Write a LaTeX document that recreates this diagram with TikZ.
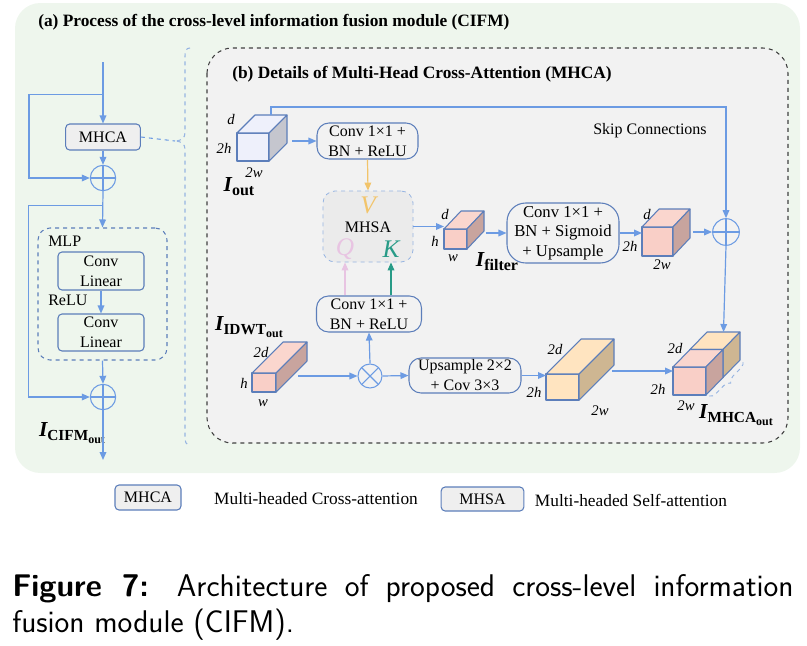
\documentclass[tikz,border=0pt]{standalone}
\usepackage{fontspec}
\setmainfont{Liberation Serif}
\usetikzlibrary{arrows.meta,calc,decorations.pathreplacing}

\definecolor{bgreen}{RGB}{238,246,237}
\definecolor{bgrey}{RGB}{242,242,242}
\definecolor{lblue}{RGB}{108,155,227}
\definecolor{dblue}{RGB}{92,126,186}
\definecolor{brblue}{RGB}{150,180,226}
\definecolor{vyellow}{RGB}{242,196,106}
\definecolor{qpink}{RGB}{232,196,226}
\definecolor{kteal}{RGB}{40,155,135}
\definecolor{pinkf}{RGB}{249,207,199}
\definecolor{pinkt}{RGB}{250,214,206}
\definecolor{pinks}{RGB}{200,164,158}
\definecolor{orangef}{RGB}{255,228,192}
\definecolor{oranges}{RGB}{206,182,146}
\definecolor{lavf}{RGB}{238,240,251}
\definecolor{lavs}{RGB}{197,198,206}
\definecolor{boxgrey}{RGB}{239,239,239}
\definecolor{mhsagrey}{RGB}{235,235,235}

% top and side faces of a box, drawn on its front node
\newcommand{\boxfaces}[5]{%
  \filldraw[cubeedge,fill=#4] (#1.north west) -- ++(#2,#3) -- ($(#1.north east)+(#2,#3)$) -- (#1.north east) -- cycle;
  \filldraw[cubeedge,fill=#5] (#1.north east) -- ++(#2,#3) -- ($(#1.south east)+(#2,#3)$) -- (#1.south east) -- cycle;}
% tensor names
\newcommand{\isub}[1]{{\fontsize{16}{16}\selectfont\bfseries\itshape I}\raisebox{-3pt}{\fontsize{12}{12}\selectfont\bfseries #1}}
\newcommand{\isubb}[2]{{\fontsize{16}{16}\selectfont\bfseries\itshape I}\raisebox{-3pt}{\fontsize{11.5}{12}\selectfont\bfseries #1\raisebox{-2.5pt}{\fontsize{9}{9}\selectfont #2}}}

\begin{document}
\begin{tikzpicture}[x=0.75pt,y=0.75pt,yscale=-1,xscale=1,
  arr/.style={draw=lblue,line width=0.9pt,-{Triangle[length=6pt,width=5pt]}},
  plain/.style={draw=lblue,line width=0.9pt},
  txt/.style={font=\fontsize{12}{15}\selectfont,align=center,inner sep=0pt},
  rbox/.style={txt,draw=dblue,line width=0.8pt,rounded corners=9pt},
  sbox/.style={txt,draw=dblue,line width=0.8pt,rounded corners=3pt},
  cubeedge/.style={draw=dblue,line width=0.8pt,line join=round},
  cubefront/.style={cubeedge,inner sep=0pt,outer sep=0pt},
  dim/.style={font=\fontsize{11}{11}\selectfont\itshape,inner sep=0pt},
  qkv/.style={font=\fontsize{19}{19}\selectfont\itshape,inner sep=0pt},
  big/.style={txt,font=\fontsize{13}{15}\selectfont},
  oplus/.style={circle,draw=lblue,line width=0.8pt,minimum size=19pt,inner sep=0pt,
    path picture={\draw[lblue,line width=0.8pt] (path picture bounding box.north) -- (path picture bounding box.south)
      (path picture bounding box.west) -- (path picture bounding box.east);}},
  otimes/.style={circle,draw=lblue,line width=0.8pt,minimum size=18pt,inner sep=0pt,
    path picture={\draw[lblue,line width=0.8pt] (path picture bounding box.north west) -- (path picture bounding box.south east)
      (path picture bounding box.south west) -- (path picture bounding box.north east);}},
]
\useasboundingbox (0,0) rectangle (807,646);

% panels
\fill[bgreen,rounded corners=19pt] (15,3) rectangle (800,473);
\filldraw[fill=bgrey,draw=black!75,dashed,line width=0.8pt,rounded corners=19pt] (207,48) rectangle (788,443);
\node[big,anchor=west,font=\fontsize{13}{15}\selectfont\bfseries] (titlea) at (38,22) {(a) Process of the cross-level information fusion module (CIFM)};
\node[big,anchor=west,font=\fontsize{13}{15}\selectfont\bfseries] (titleb) at (232,74) {(b) Details of Multi-Head Cross-Attention (MHCA)};

% (a) left column
\coordinate (cin) at (103,62);
\node[sbox,fill=boxgrey,minimum width=56pt,minimum height=19.5pt] (mhca) at (103,137) {MHCA};
\node[oplus] (plus1) at (103,178) {};
\node[draw=dblue,dashed,line width=0.8pt,rounded corners=9pt,minimum width=96.75pt,minimum height=99pt] (mlp) at (102.5,294) {};
\node[txt,anchor=west] (mlplab) at (48,241) {MLP};
\node[sbox,minimum width=64.5pt,minimum height=28.5pt] (lin1) at (101,271) {Conv\\Linear};
\node[txt,anchor=west] (relu) at (48,300) {ReLU};
\node[sbox,minimum width=64.5pt,minimum height=27.75pt] (lin2) at (101,332.5) {Conv\\Linear};
\node[oplus] (plus2) at (103,397) {};
\coordinate (cout) at (103,460);
\node[inner sep=0pt] (icifm) at (72,433) {\isubb{CIFM}{out}};

\draw[arr] (cin) -- (mhca.north);
\draw[arr] ($(mhca.north)+(0,-29)$) -- ++(-74,0) |- (plus1.west);
\draw[arr] (mhca.south) -- (plus1.north);
\draw[arr] (plus1.south) -- (mlp.north);
\draw[arr] ($(mlp.north)+(0,-22)$) -- ++(-74,0) |- (plus2.west);
\draw[arr] (lin1.south) -- (lin2.north);
\draw[arr] (mlp.south) -- (plus2.north);
\draw[arr] (plus2.south) -- (cout);

% brace to (b)
\coordinate (bracetip) at (175,141);
\draw[brblue,dashed,line width=0.8pt] (190,48) .. controls (186,48) and (185,51) .. (185,56) -- (185,133)
  .. controls (185,138) and (181,141) .. (bracetip) .. controls (181,141) and (185,144) .. (185,149) -- (185,437)
  .. controls (185,442) and (186,445) .. (190,445);
\draw[lblue,dashed,line width=0.8pt] (mhca.east) -- (bracetip);

% (b) upper row
\node[cubefront,fill=lavf,minimum width=24pt,minimum height=21pt] (iout) at (253,147) {};
\boxfaces{iout}{18}{-18}{lavf}{lavs}
\node[dim] (ioutd) at (231,119) {d};
\node[dim] (iouth) at (224,148) {2h};
\node[dim] (ioutw) at (254,173) {2w};
\node[inner sep=0pt] (ioutlab) at (239,187) {\isub{out}};

\node[rbox,minimum width=75.75pt,minimum height=27pt] (conv1) at (367.5,141) {Conv 1×1 +\\BN + ReLU};
\node[draw=brblue,dashed,line width=0.6pt,fill=mhsagrey,rounded corners=9pt,minimum width=67.5pt,minimum height=53.25pt] (mhsa) at (368,226.5) {};
\node[txt] (mhsalab) at (368,227) {MHSA};
\node[qkv,text=vyellow] (vlab) at (368,205) {V};
\node[qkv,text=qpink] (qlab) at (345,249) {Q};
\node[qkv,text=kteal] (klab) at (391,249) {K};

\node[cubefront,fill=pinkf,minimum width=17.25pt,minimum height=15pt] (filt) at (455.5,239) {};
\boxfaces{filt}{17}{-18}{pinkt}{pinks}
\node[dim] (filtd) at (445,214) {d};
\node[dim] (filth) at (435,241) {h};
\node[dim] (filtw) at (453,258) {w};
\node[inner sep=0pt] (filtlab) at (497,262) {\isub{filter}};

\node[rbox,rounded corners=14pt,minimum width=84pt,minimum height=45pt,font=\fontsize{12.5}{14.5}\selectfont] (conv3) at (563,233) {Conv 1×1 +\\BN + Sigmoid\\+ Upsample};
\node[cubefront,fill=pinkf,minimum width=23.25pt,minimum height=21.75pt] (sig) at (657.5,241.5) {};
\boxfaces{sig}{17}{-18}{pinkt}{pinks}
\node[dim] (sigd) at (647,214) {d};
\node[dim] (sigh) at (630,246) {2h};
\node[dim] (sigw) at (662,265) {2w};
\node[oplus,minimum size=20pt] (plus3) at (726,232) {};
\node[txt] (skiplab) at (650,131) {Skip Connections};

\draw[arr] ($(conv1.west -| iout.east)+(23,0)$) -- (conv1.west);
\draw[arr,draw=vyellow] (conv1.south) -- (mhsa.north);
\draw[arr] (mhsa.east) -- (mhsa.east -| filt.west);
\draw[arr] ($(conv3.west -| filt.east)+(19,0)$) -- (conv3.west);
\draw[arr] (conv3.east) -- (conv3.east -| sig.west);
\draw[arr] ($(plus3.west -| sig.east)+(20,0)$) -- (plus3.west);
\draw[arr] ($(iout.north)+(18,-18)$) -- ++(0,-8) -| (plus3.north);

% (b) lower row
\node[cubefront,fill=pinkf,minimum width=18pt,minimum height=14.25pt] (idwt) at (264,382.5) {};
\boxfaces{idwt}{31}{-31}{pinkt}{pinks}
\node[dim] (idwtd) at (261,352) {2d};
\node[dim] (idwth) at (244,383) {h};
\node[dim] (idwtw) at (263,403) {w};
\node[inner sep=0pt] (idwtlab) at (249,327) {\isubb{IDWT}{out}};

\node[otimes] (times) at (370,376) {};
\node[rbox,minimum width=78.75pt,minimum height=27pt] (conv2) at (369,314) {Conv 1×1 +\\BN + ReLU};
\node[rbox,minimum width=84pt,minimum height=26.25pt] (up) at (465,375.5) {Upsample 2×2\\+ Cov 3×3};

\node[cubefront,fill=orangef,minimum width=24.75pt,minimum height=19.5pt] (up4) at (562.5,387) {};
\boxfaces{up4}{35}{-35}{orangef}{oranges}
\node[dim] (up4d) at (555,349) {2d};
\node[dim] (up4h) at (534,392) {2h};
\node[dim] (up4w) at (600,411) {2w};

\node[cubefront,fill=orangef,minimum width=24.75pt,minimum height=21pt] (finback) at (706.5,363.5) {};
\boxfaces{finback}{17}{-17.5}{orangef}{oranges}
\node[cubefront,fill=pinkf,minimum width=24.75pt,minimum height=21pt] (fin) at (689.5,381) {};
\boxfaces{fin}{17}{-17.5}{pinkt}{pinks}
\node[dim] (find) at (675,348) {2d};
\node[dim] (finh) at (658,389) {2h};
\node[dim] (finw) at (686,406) {2w};
\node[inner sep=0pt] (finlab) at (736,415) {\isubb{MHCA}{out}};
\draw[brblue,dashed,line width=0.7pt,decorate,decoration={brace,amplitude=5pt,mirror}]
  ($(fin.south east)+(3,1)$) -- ($(fin.south east)+(37,-34)$);

\draw[arr,draw=qpink] (conv2.north -| qlab) -- (mhsa.south -| qlab);
\draw[arr,draw=kteal] (conv2.north -| klab) -- (mhsa.south -| klab);
\draw[arr] (times.north) -- (conv2.south);
\draw[arr] ($(times.west -| idwt.east)+(22,0)$) -- (times.west);
\draw[arr] (times.east) -- (up.west);
\draw[arr] (up.east) -- (up.east -| up4.west);
\draw[arr] ($(fin.west)+(-61,-10)$) -- ($(fin.west)+(0,-10)$);
\draw[arr] (plus3.south) -- ($(fin.north)+(34,-35)$);

% legend
\node[sbox,fill=boxgrey,minimum width=49.5pt,minimum height=18.75pt] (legca) at (148,497.5) {MHCA};
\node[big] (legcatext) at (316,499) {Multi-headed Cross-attention};
\node[sbox,fill=boxgrey,minimum width=62pt,minimum height=18pt] (legsa) at (482.5,499) {MHSA};
\node[big] (legsatext) at (631,500) {Multi-headed Self-attention};

% caption
\node[anchor=north west,text width=586pt,align=justify,inner sep=0pt,font=\sffamily\fontsize{23.5}{27}\selectfont] (caption) at (12,574)
  {\hyphenpenalty=10000 \textbf{Figure 7:} Architecture of proposed cross-level information\linebreak fusion module (CIFM).};
\end{tikzpicture}
\end{document}
